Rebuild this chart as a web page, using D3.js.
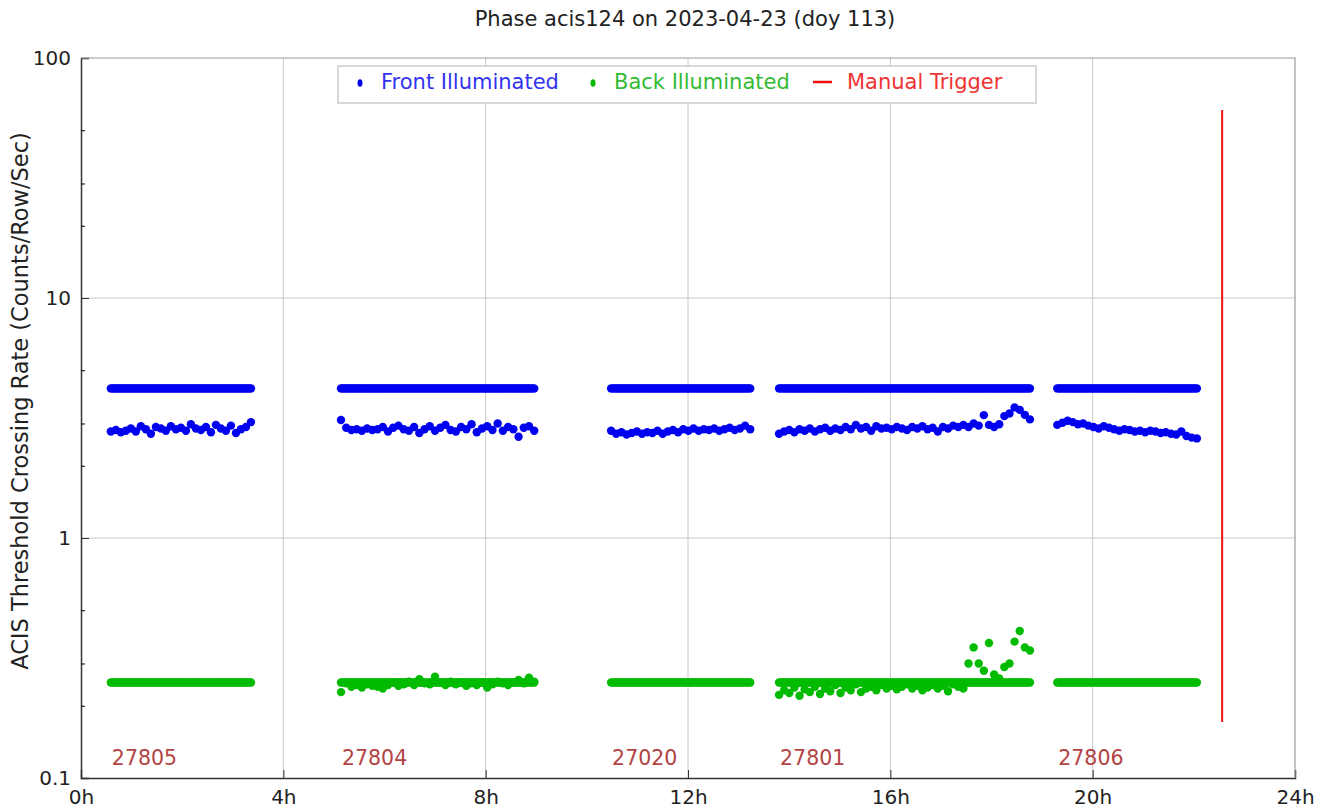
<!DOCTYPE html>
<html>
<head>
<meta charset="utf-8">
<script src="https://cdn.jsdelivr.net/npm/d3@7"></script>
<style>
  body { margin: 0; background: #fff; }
  svg { display: block; font-family: "DejaVu Sans", sans-serif; }
</style>
</head>
<body>
<svg id="chart"></svg>
<script>
// observation segments (hours of day) and their obsids
var obsids   = ["27805", "27804", "27020", "27801", "27806"];
var segStart = [0.59, 5.14, 10.48, 13.80, 19.30];
var segEnd   = [3.36, 8.96, 13.23, 18.76, 22.06];

// flat threshold levels per segment
var fiLevel = [4.2, 4.2, 4.2, 4.2, 4.2];
var biLevel = [0.25, 0.25, 0.25, 0.25, 0.25];

// front illuminated rates, one list per segment
var fiRates = [
  [2.78,2.82,2.76,2.8,2.86,2.78,2.92,2.84,2.72,2.9,2.86,2.8,2.92,2.84,2.88,2.8,2.98,2.86,2.82,2.9,2.76,2.96,2.86,2.8,2.94,2.74,2.84,2.9,3.04],
  [3.1,2.88,2.82,2.84,2.8,2.86,2.82,2.84,2.9,2.78,2.88,2.94,2.84,2.8,2.9,2.74,2.84,2.92,2.8,2.88,2.96,2.82,2.78,2.9,2.84,2.98,2.76,2.86,2.92,2.82,3.0,2.8,2.9,2.84,2.64,2.88,2.92,2.8],
  [2.8,2.72,2.76,2.7,2.74,2.78,2.72,2.76,2.74,2.8,2.72,2.78,2.82,2.76,2.84,2.8,2.86,2.8,2.84,2.82,2.86,2.8,2.84,2.88,2.82,2.86,2.94,2.84],
  [2.72,2.78,2.82,2.76,2.84,2.8,2.86,2.78,2.84,2.88,2.8,2.86,2.82,2.9,2.84,2.96,2.86,2.9,2.8,2.92,2.86,2.88,2.84,2.9,2.86,2.82,2.9,2.86,2.92,2.84,2.88,2.78,2.9,2.86,2.94,2.9,2.96,2.9,3.0,2.94,3.25,2.96,2.9,2.98,3.22,3.3,3.5,3.42,3.26,3.12],
  [2.96,3.02,3.08,3.04,2.98,3.0,2.94,2.9,2.86,2.92,2.88,2.84,2.8,2.84,2.82,2.78,2.8,2.76,2.8,2.78,2.74,2.76,2.72,2.7,2.78,2.66,2.62,2.6]
];

// back illuminated rates (segments 1,3,5 sit on the flat level)
var biRates = [
  [],
  [0.228,0.248,0.24,0.244,0.238,0.246,0.242,0.24,0.236,0.244,0.25,0.242,0.246,0.252,0.244,0.258,0.248,0.246,0.264,0.25,0.244,0.252,0.246,0.25,0.242,0.248,0.244,0.25,0.238,0.246,0.252,0.248,0.244,0.25,0.256,0.248,0.262,0.252],
  [],
  [0.222,0.232,0.226,0.238,0.22,0.234,0.228,0.24,0.224,0.236,0.23,0.244,0.226,0.238,0.232,0.246,0.228,0.236,0.24,0.232,0.244,0.236,0.242,0.234,0.24,0.246,0.236,0.242,0.232,0.238,0.244,0.236,0.242,0.23,0.246,0.24,0.236,
   0.30,0.35,0.30,0.28,0.365,0.27,0.26,0.29,0.30,0.37,0.41,0.35,0.34],
  []
];

// manual trigger
var triggerTime = [22.56];
var triggerRange = [0.171, 60.7];

var xTicks = [0, 4, 8, 12, 16, 20, 24];
var yTicks = [0.1, 1, 10, 100];
var yMinor = [0.2, 0.3, 0.5, 2, 3, 5, 20, 30, 50];

var width = 1330, height = 812;
var margin = {top: 58, right: 35, bottom: 34, left: 81};

var svg = d3.select("#chart").attr("width", width).attr("height", height);

var x = d3.scaleLinear().domain([0, 24]).range([margin.left, width - margin.right]);
var y = d3.scaleLog().domain([0.1, 100]).range([height - margin.bottom, margin.top]);

// grid
svg.append("g").selectAll("line").data(xTicks.slice(1, -1)).enter().append("line")
  .attr("x1", function(d) { return x(d); }).attr("x2", function(d) { return x(d); })
  .attr("y1", y(0.1)).attr("y2", y(100))
  .attr("stroke", "#c8c8c8").attr("stroke-width", 1);
svg.append("g").selectAll("line").data([1, 10]).enter().append("line")
  .attr("x1", x(0)).attr("x2", x(24))
  .attr("y1", function(d) { return y(d); }).attr("y2", function(d) { return y(d); })
  .attr("stroke", "#c8c8c8").attr("stroke-width", 1);

// sample times spread over a segment
function times(i, n) {
  var t0 = segStart[i], t1 = segEnd[i];
  return d3.range(n).map(function(k) { return t0 + k * (t1 - t0) / (n - 1); });
}
var fiPts = [], biPts = [];
obsids.forEach(function(id, i) {
  // flat levels are sampled at the finer 32 s cadence
  times(i, fiRates[i].length * 3).forEach(function(t) {
    fiPts.push([t, fiLevel[i]]);
    biPts.push([t, biLevel[i]]);
  });
  var tf = times(i, fiRates[i].length);
  fiRates[i].forEach(function(v, k) { fiPts.push([tf[k], v]); });
  var tb = times(i, biRates[i].length || 2);
  biRates[i].forEach(function(v, k) { biPts.push([tb[k], v]); });
});

var plot = svg.append("g");
plot.selectAll("circle.bi").data(biPts).enter().append("circle")
  .attr("class", "bi")
  .attr("cx", function(d) { return x(d[0]); })
  .attr("cy", function(d) { return y(d[1]); })
  .attr("r", 4.2).attr("fill", "#00bb00");
plot.selectAll("circle.fi").data(fiPts).enter().append("circle")
  .attr("class", "fi")
  .attr("cx", function(d) { return x(d[0]); })
  .attr("cy", function(d) { return y(d[1]); })
  .attr("r", 4.2).attr("fill", "#0000f0");

// manual trigger line
plot.selectAll("line.trig").data(triggerTime).enter().append("line")
  .attr("x1", function(d) { return x(d); }).attr("x2", function(d) { return x(d); })
  .attr("y1", y(triggerRange[0])).attr("y2", y(triggerRange[1]))
  .attr("stroke", "#ee1111").attr("stroke-width", 2);

// obsid labels
svg.append("g").selectAll("text").data(obsids).enter().append("text")
  .attr("x", function(d, i) { return x(segStart[i]) + 1; })
  .attr("y", y(0.113))
  .attr("font-size", 20.5).attr("fill", "#b24444")
  .text(function(d) { return d; });

// axes
var xAxis = svg.append("g").attr("transform", "translate(0," + y(0.1) + ")")
  .call(d3.axisBottom(x).tickValues(xTicks).tickSize(-8).tickPadding(12)
    .tickFormat(function(d) { return d + "h"; }));
var yAxis = svg.append("g").attr("transform", "translate(" + x(0) + ",0)")
  .call(d3.axisLeft(y).tickValues(yTicks).tickSize(-8).tickPadding(10)
    .tickFormat(function(d) { return d3.format("~g")(d); }));
svg.append("g").attr("transform", "translate(" + x(0) + ",0)")
  .call(d3.axisLeft(y).tickValues(yMinor).tickSize(-4).tickFormat(""))
  .select(".domain").remove();
[xAxis, yAxis].forEach(function(a) {
  a.selectAll("text").attr("font-size", 20).attr("fill", "#222").attr("font-family", "DejaVu Sans");
  a.selectAll("line").attr("stroke", "#333");
  a.select(".domain").attr("stroke", "#333").attr("stroke-width", 1.5);
});

// frame top/right
svg.append("path")
  .attr("d", "M" + x(0) + "," + y(100) + "H" + x(24) + "V" + y(0.1))
  .attr("fill", "none").attr("stroke", "#999").attr("stroke-width", 1.2);

// title and y label
svg.append("text").attr("x", 685).attr("y", 26).attr("text-anchor", "middle")
  .attr("font-size", 21).attr("fill", "#222")
  .text("Phase acis124 on 2023-04-23 (doy 113)");
svg.append("text")
  .attr("transform", "translate(28," + 401 + ") rotate(-90)")
  .attr("text-anchor", "middle").attr("font-size", 22.5).attr("fill", "#222")
  .text("ACIS Threshold Crossing Rate (Counts/Row/Sec)");

// legend
var leg = svg.append("g");
leg.append("rect").attr("x", 338).attr("y", 66).attr("width", 698).attr("height", 37)
  .attr("fill", "#fff").attr("stroke", "#ccc").attr("stroke-width", 1.5);
leg.append("ellipse").attr("cx", 360).attr("cy", 83).attr("rx", 2.5).attr("ry", 3.8).attr("fill", "#0000ee");
leg.append("text").attr("x", 381).attr("y", 89).attr("font-size", 21).attr("fill", "#3333ee").text("Front Illuminated");
leg.append("ellipse").attr("cx", 593).attr("cy", 83).attr("rx", 2.5).attr("ry", 3.8).attr("fill", "#00bb00");
leg.append("text").attr("x", 614).attr("y", 89).attr("font-size", 21).attr("fill", "#33bb33").text("Back Illuminated");
leg.append("line").attr("x1", 813).attr("x2", 832).attr("y1", 82).attr("y2", 82)
  .attr("stroke", "#ee1111").attr("stroke-width", 2.5);
leg.append("text").attr("x", 847).attr("y", 89).attr("font-size", 21).attr("fill", "#ee3333").text("Manual Trigger");
</script>
</body>
</html>
